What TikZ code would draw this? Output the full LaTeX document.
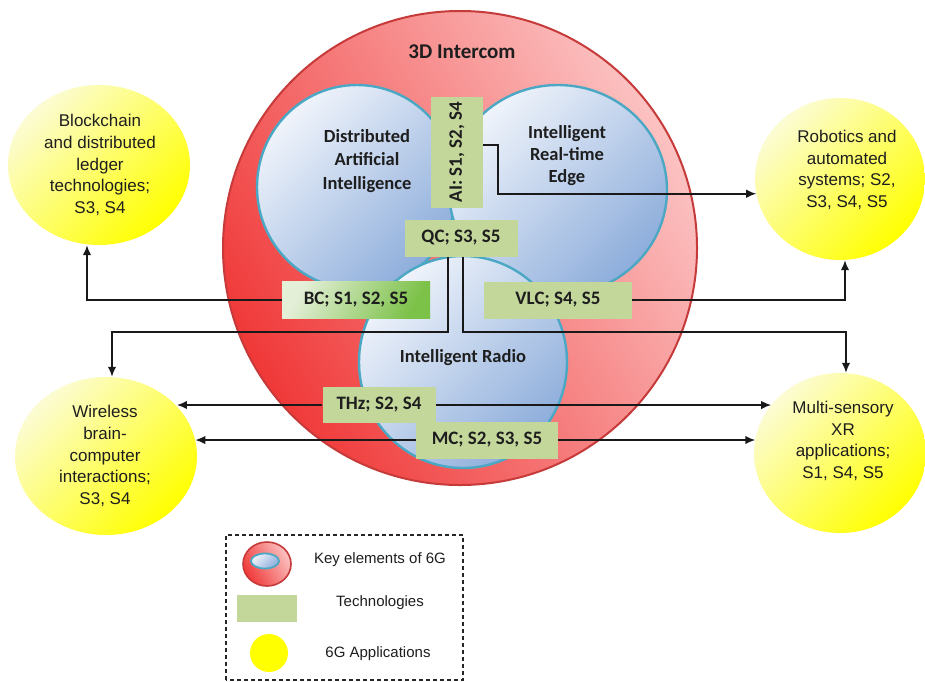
\documentclass[tikz,border=0pt]{standalone}
\usepackage{fontspec}
\usepackage{graphicx}
\setmainfont{Liberation Sans}
\newfontfamily\calibfont{Carlito}
\usetikzlibrary{shapes.geometric,arrows.meta}

\definecolor{ringdark}{HTML}{F03838}
\definecolor{ringlight}{HTML}{FCC2C2}
\definecolor{ringedge}{HTML}{C63A3A}
\definecolor{coredark}{HTML}{8DADDB}
\definecolor{corelight}{HTML}{F0F4FB}
\definecolor{coreedge}{HTML}{4BA8C4}
\definecolor{techfill}{HTML}{C4D79B}
\definecolor{bclight}{HTML}{E4EFD8}
\definecolor{bcdark}{HTML}{7CC148}
\definecolor{applight}{HTML}{FCFCD4}
\definecolor{appfill}{HTML}{FFFF00}
\definecolor{inktext}{HTML}{1E1E1E}

\begin{document}
\begin{tikzpicture}[x=1pt,y=-1pt,
  ring/.style={circle, draw=ringedge, line width=2pt, top color=ringlight,
    bottom color=ringdark, shading angle=-60, inner sep=0pt},
  core/.style={ellipse, draw=coreedge, line width=2.4pt, top color=corelight,
    bottom color=coredark, shading angle=45, inner sep=0pt},
  app/.style={ellipse, top color=applight, bottom color=appfill,
    shading angle=45, inner sep=0pt},
  apptext/.style={font=\fontsize{17}{21.7}\selectfont, align=center, text=inktext},
  corelabel/.style={font=\calibfont\bfseries\fontsize{18.5}{23.5}\selectfont,
    align=center, text=inktext},
  tech/.style={rectangle, fill=techfill, inner sep=0pt,
    font=\calibfont\bfseries\fontsize{19}{22}\selectfont, text=inktext},
  legendtext/.style={font=\fontsize{15}{18}\selectfont, text=inktext},
  link/.style={line width=1.6pt, draw=black!90},
  tip/.style={-{Latex[length=10pt,width=8.5pt]}}
]
\useasboundingbox (0,0) rectangle (925,681);
\fill[white] (0,0) rectangle (925,681);

% key elements of 6G
\node[ring, minimum size=474pt] (ring) at (460,248) {};
\node[core, minimum width=200pt, minimum height=204pt] (dai) at (357,187) {};
\node[core, minimum width=218pt, minimum height=210pt] (edge) at (558,190) {};
\node[core, minimum width=208pt, minimum height=212pt] (radio) at (463,362) {};

\node[corelabel, font=\calibfont\bfseries\fontsize{21}{24}\selectfont] (title) at (462,52) {3D Intercom};
\node[corelabel] (daitxt) at (367,161) {Distributed\\Artificial\\Intelligence};
\node[corelabel, font=\calibfont\bfseries\fontsize{18.5}{22}\selectfont] (edgetxt) at (567,156) {Intelligent\\Real-time\\Edge};
\node[corelabel] (radiotxt) at (463,358) {Intelligent Radio};

% 6G applications
\node[app, minimum width=182pt, minimum height=160pt] (blk) at (99,165) {};
\node[apptext] (blktxt) at (100,165) {Blockchain\\and distributed\\ledger\\technologies;\\S3, S4};
\node[app, minimum width=170pt, minimum height=162pt] (rob) at (840,179) {};
\node[apptext] (robtxt) at (847,170) {Robotics and\\automated\\systems; S2,\\S3, S4, S5};
\node[app, minimum width=182pt, minimum height=158pt] (wl) at (106,456) {};
\node[apptext] (wltxt) at (105,456) {Wireless\\brain-\\computer\\interactions;\\S3, S4};
\node[app, minimum width=172pt, minimum height=160pt] (xr) at (840,453) {};
\node[apptext] (xrtxt) at (843,441) {Multi-sensory\\XR\\applications;\\S1, S4, S5};

% technologies
\node[tech, minimum width=52pt, minimum height=111pt] (ai) at (457,152) {\rotatebox{90}{AI: S1, S2, S4}};
\node[tech, minimum width=113pt, minimum height=37pt] (qc) at (461,238) {QC; S3, S5};
\node[tech, minimum width=148pt, minimum height=37pt, fill=none,
  top color=bclight, bottom color=bcdark, shading angle=60] (bc) at (356,300) {BC; S1, S2, S5};
\node[tech, minimum width=148pt, minimum height=37pt] (vlc) at (558,300) {VLC; S4, S5};
\node[tech, minimum width=113pt, minimum height=36pt] (thz) at (379,405) {THz; S2, S4};
\node[tech, minimum width=142pt, minimum height=37pt] (mc) at (487,440) {MC; S2, S3, S5};

% links from technologies to applications
\draw[link, tip] ([yshift=7pt]ai.east) -- ++(15,0) |- (rob.190);
\draw[link, tip] (bc.west) -| ([xshift=-12pt]blk.south);
\draw[link, tip] (vlc.east) -| ([xshift=5pt]rob.south);
\draw[link, tip] ([xshift=-13pt]qc.south) -- ++(0,75) -| ([xshift=6pt]wl.north);
\draw[link, tip] ([xshift=2pt]qc.south) -- ++(0,75) -| ([xshift=6pt]xr.north);

% two-way links of the radio technologies
\draw[link, tip] (thz.west) -- (thz.west -| wl.35);
\draw[link, tip] (thz.east) -- (thz.east -| xr.145);
\draw[link, tip] (mc.west) -- (mc.west -| wl.10);
\draw[link, tip] (mc.east) -- (mc.east -| xr.170);

% legend
\draw[line width=1.2pt, dash pattern=on 4pt off 3pt, black!85] (226,680) -- (226,535) -- (463,535) -- (463,680) -- cycle;
\node[ring, ellipse, line width=1.6pt, minimum width=48pt, minimum height=44pt] (keyicon) at (267,564) {};
\node[core, line width=1.8pt, minimum width=28pt, minimum height=15pt] (keycore) at (265,561) {};
\node[legendtext] (keytxt) at (380,560) {Key elements of 6G};
\node[rectangle, fill=techfill, minimum width=60pt, minimum height=27pt, inner sep=0pt] (techicon) at (267,608) {};
\node[legendtext] (techtxt) at (380,603) {Technologies};
\node[circle, fill=appfill, minimum size=38pt, inner sep=0pt] (appicon) at (269,653) {};
\node[legendtext] (apptxt) at (378,654) {6G Applications};
\end{tikzpicture}
\end{document}
